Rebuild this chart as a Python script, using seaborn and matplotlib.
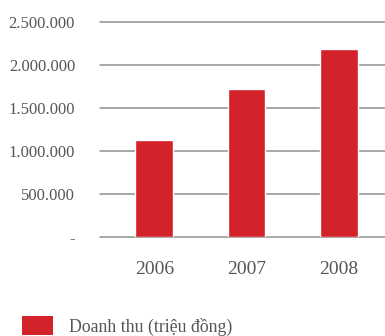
import matplotlib
matplotlib.use("Agg")
import matplotlib.pyplot as plt
from matplotlib.ticker import FuncFormatter
from matplotlib.patches import Patch
import seaborn as sns
import pandas as pd

years = ["2006", "2007", "2008"]
revenue = [1130000, 1722000, 2187000]
series_label = "Doanh thu (triệu đồng)"
y_ticks = [0, 500000, 1000000, 1500000, 2000000, 2500000]

bar_color = "#D3222A"
text_color = "#555555"
grid_color = "#8f8f8f"

sns.set_theme(style="white")
plt.rcParams["font.family"] = ["Liberation Serif", "DejaVu Serif"]

df = pd.DataFrame({"year": years, "revenue": revenue})

fig = plt.figure(figsize=(3.85, 3.36), dpi=100)
ax = fig.add_axes([0.26, 1 - 237.3 / 336, 0.74, (237.3 - 22) / 336])

sns.barplot(data=df, x="year", y="revenue", color=bar_color, width=0.41,
            saturation=1, ax=ax, zorder=3)

ax.set_ylim(0, 2500000)
ax.set_xlim(-0.586, 2.5)
ax.set_yticks(y_ticks)


def fmt(v, _):
    if v == 0:
        return "-"
    return f"{int(v):,}".replace(",", ".")


ax.yaxis.set_major_formatter(FuncFormatter(fmt))
ax.yaxis.grid(True, color=grid_color, linewidth=1.1, zorder=0)
ax.xaxis.grid(False)
for s in ax.spines.values():
    s.set_visible(False)
for line in ax.get_ygridlines():
    line.set_clip_on(False)

ax.tick_params(axis="y", length=0, pad=18, labelsize=12, labelcolor=text_color)
ax.tick_params(axis="x", length=0, pad=17, labelsize=14, labelcolor=text_color)
ax.set_xlabel("")
ax.set_ylabel("")

handle = Patch(facecolor=bar_color, edgecolor="none")
fs = 12.8
fs_px = fs * 100 / 72
fig.legend([handle], [series_label], loc="upper left",
           bbox_to_anchor=((22 - 0.4 * fs_px) / 385, 1 - (316 - 0.4 * fs_px) / 336),
           frameon=False, fontsize=fs, labelcolor=text_color,
           handlelength=31 / fs_px, handleheight=1.3, handletextpad=0.9,
           borderaxespad=0)

fig.savefig("out.png", dpi=100)
